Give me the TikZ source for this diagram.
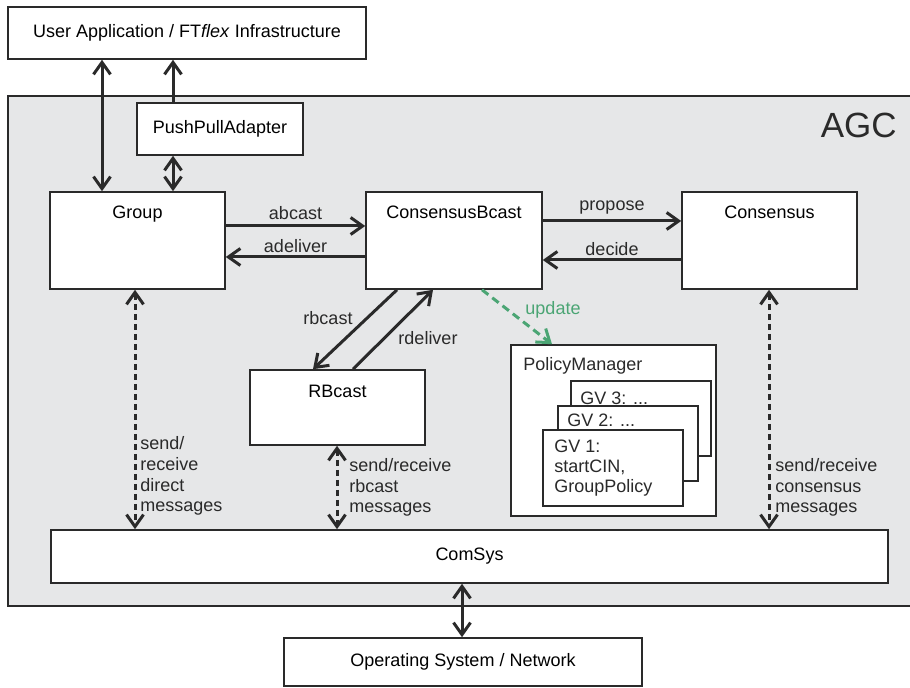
\documentclass[tikz,border=0pt]{standalone}
\usepackage{fontspec}
\setmainfont{Liberation Sans}
\usetikzlibrary{arrows.meta}
\definecolor{agcgray}{HTML}{E6E7E8}
\definecolor{linec}{HTML}{2A2A2A}
\definecolor{updgreen}{HTML}{4BA574}
\begin{document}
\begin{tikzpicture}[x=0.5pt,y=-0.5pt,
  font=\fontsize{9}{10.35}\selectfont,
  box/.style={draw=linec, line width=0.8pt, fill=white, rectangle, inner sep=0pt, minimum width=#1},
  box/.default=87.5pt,
  arr/.style={draw=linec, line width=1.5pt, arrows={-Straight Barb[length=6pt,width=8.5pt]}},
  darr/.style={draw=linec, line width=1.5pt, arrows={Straight Barb[length=6pt,width=8.5pt]-Straight Barb[length=6pt,width=8.5pt]}},
  dashedarr/.style={darr, dash pattern=on 3pt off 2pt},
  toplabel/.style={label={[anchor=base,yshift=-13.5pt,inner sep=0pt]north:#1}},
  txt/.style={inner sep=0pt, text=linec}
]
\useasboundingbox (0,0) rectangle (910,688);
\clip (0,0) rectangle (910,688);
% AGC container
\fill[agcgray] (8,96) rectangle (920,606);
\draw[linec, line width=0.8pt] (920,96) -- (8,96) -- (8,606) -- (920,606);
\node[txt, font=\fontsize{17.5}{20}\selectfont, anchor=east] (agc) at (897,125) {AGC};

% boxes
\node[box=179pt, minimum height=26pt] (ua) at (187,33) {User Application / FT\textit{flex} Infrastructure};
\node[box=83pt, minimum height=26pt] (ppa) at (220,129) {PushPullAdapter};
\node[box=87.5pt, minimum height=48.5pt, toplabel=Group] (group) at (137.5,240.5) {};
\node[box=88pt, minimum height=48.5pt, toplabel=ConsensusBcast] (cb) at (454,240.5) {};
\node[box=87.5pt, minimum height=48.5pt, toplabel=Consensus] (cons) at (769.5,240.5) {};
\node[box=87.5pt, minimum height=37.5pt, label={[anchor=base,yshift=-14pt,inner sep=0pt]north:RBcast}] (rb) at (337.5,407.5) {};
\node[box=102.5pt, minimum height=85.5pt] (pm) at (613.5,430.5) {};
\node[txt, anchor=base west] (pmlabel) at (523,371) {PolicyManager};
\node[box=70pt, minimum height=37.5pt] (gv3) at (641,418.5) {};
\node[txt, anchor=base west] (gv3t) at (580,405) {GV 3: ...};
\node[box=70pt, minimum height=37.5pt] (gv2) at (628,443.5) {};
\node[txt, anchor=base west] (gv2t) at (567,427) {GV 2: ...};
\node[box=70pt, minimum height=38pt] (gv1) at (613,468) {};
\node[txt, anchor=base west] (gv1a) at (554,453) {GV 1:};
\node[txt, anchor=base west] (gv1b) at (554,473) {startCIN,};
\node[txt, anchor=base west] (gv1c) at (554,493) {GroupPolicy};
\node[box=418.5pt, minimum height=26.5pt] (comsys) at (469.5,556.5) {ComSys};
\node[box=179pt, minimum height=24pt] (os) at (463,662) {Operating System / Network};

% helper coordinates
\coordinate (xUA) at (102,0);
\coordinate (xPP) at (173,0);
\coordinate (yAb) at (0,226);
\coordinate (yAd) at (0,257);
\coordinate (yPr) at (0,221);
\coordinate (yDe) at (0,260);
\coordinate (xRbA) at (397,0);
\coordinate (xRbB) at (313,0);
\coordinate (xRdA) at (353,0);
\coordinate (xRdB) at (433,0);
\coordinate (xUpA) at (482,0);
\coordinate (xUpB) at (552,0);
\coordinate (xGd) at (135,0);
\coordinate (xRd) at (337,0);
\coordinate (xCd) at (769,0);
\coordinate (xOs) at (462,0);

% solid arrows
\draw[darr] (ua.south -| xUA) -- (group.north -| xUA);
\draw[arr] (ppa.north -| xPP) -- (ua.south -| xPP);
\draw[darr] (ppa.south -| xPP) -- (group.north -| xPP);
\draw[arr] (group.east |- yAb) -- node[txt, above=2.5pt] (lab) {abcast} (cb.west |- yAb);
\draw[arr] (cb.west |- yAd) -- node[txt, above=1.5pt] (lad) {adeliver} (group.east |- yAd);
\draw[arr] (cb.east |- yPr) -- node[txt, above=2.5pt] (lpr) {propose} (cons.west |- yPr);
\draw[arr] (cons.west |- yDe) -- node[txt, above=1.5pt] (lde) {decide} (cb.east |- yDe);
\draw[arr] (cb.south -| xRbA) -- (rb.north -| xRbB);
\node[txt] (lrb) at (328,318) {rbcast};
\draw[arr] (rb.north -| xRdA) -- (cb.south -| xRdB);
\node[txt] (lrd) at (428,338) {rdeliver};
\draw[arr, draw=updgreen, dash pattern=on 4pt off 2.5pt] (cb.south -| xUpA) -- (pm.north -| xUpB);
\node[txt, text=updgreen] (lup) at (553,310) {update};
\draw[darr] (comsys.south -| xOs) -- (os.north -| xOs);

% dashed arrows
\draw[dashedarr] (group.south -| xGd) -- (comsys.north -| xGd);
\node[txt, anchor=base west, align=left] (lgd) at (140,512) {send/\\receive\\direct\\messages};
\draw[dashedarr] (rb.south -| xRd) -- (comsys.north -| xRd);
\node[txt, anchor=base west, align=left] (lrdm) at (349,513) {send/receive\\rbcast\\messages};
\draw[dashedarr] (cons.south -| xCd) -- (comsys.north -| xCd);
\node[txt, anchor=base west, align=left] (lcd) at (775,513) {send/receive\\consensus\\messages};
\end{tikzpicture}
\end{document}
